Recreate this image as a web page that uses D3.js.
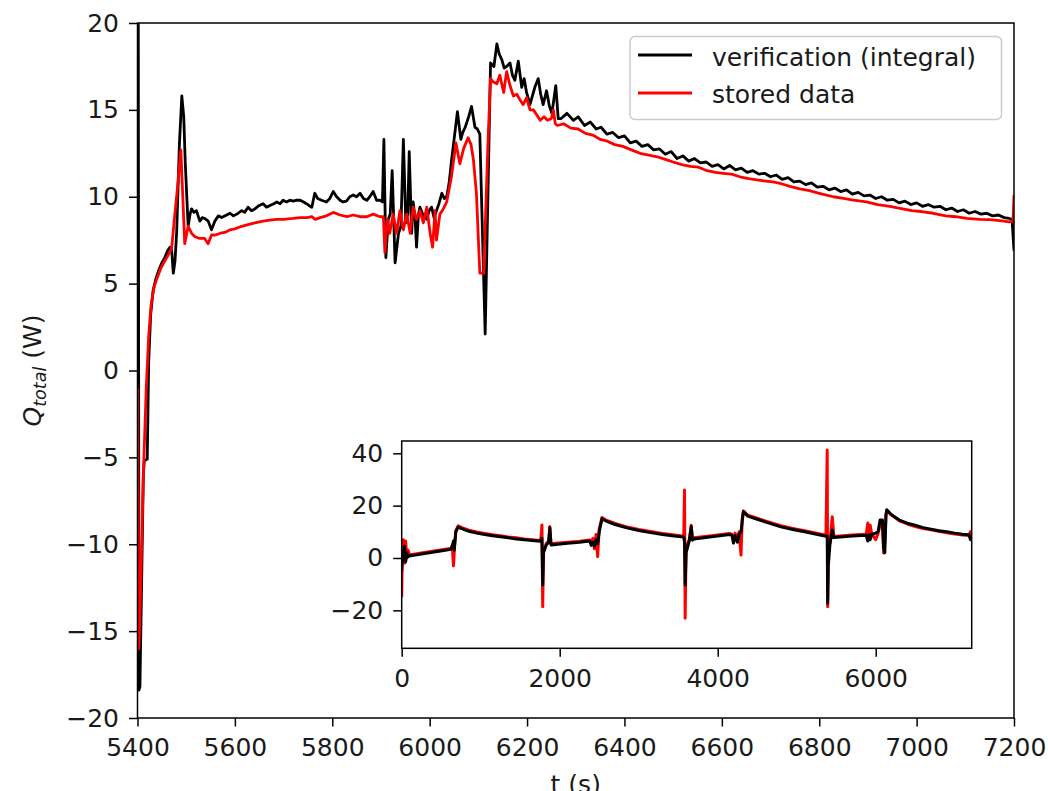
<!DOCTYPE html>
<html lang="en">
<head>
<meta charset="UTF-8">
<title>Q total: verification vs stored data</title>
<script src="https://d3js.org/d3.v7.min.js"></script>
<style>
  body { margin: 0; background: #fff; }
</style>
</head>
<body>
<div id="chart"></div>
<script>
// main panel, [t (s), Q_total (W)]
const verifMain = [
  [5400, 30], [5401.5, 24], [5403, -18.4], [5405, -18.2], [5408, -13], [5412, -6], [5414, -5.2], [5420, -5.1],
  [5423, 0.5], [5427, 3.2], [5432, 4.6], [5438, 5.3], [5444, 5.8], [5450, 6.2], [5456, 6.5],
  [5462, 6.9], [5467, 7.1], [5470, 7.0], [5473.5, 5.6], [5477, 6.3], [5480.5, 8.0], [5486, 13],
  [5491, 15.8], [5495, 14.6], [5498, 12], [5504, 8.3], [5508, 9.0], [5511, 9.3], [5516, 9.1],
  [5521, 9.2], [5528, 8.6], [5533, 8.8], [5538, 8.75], [5545, 8.6], [5552, 8.1], [5559, 8.6],
  [5566, 8.9], [5573, 8.8], [5580, 8.9], [5590, 9.05], [5597, 8.9], [5604, 9.0], [5614, 9.2],
  [5620, 9.1], [5627, 9.4], [5634, 9.2], [5641, 9.3], [5650, 9.5], [5658, 9.6], [5665, 9.4],
  [5672, 9.5], [5680, 9.6], [5686, 9.7], [5693, 9.6], [5699, 9.8], [5706, 9.7], [5713, 9.8],
  [5720, 9.75], [5727, 9.8], [5734, 9.8], [5741, 9.7], [5747, 9.6], [5752, 9.5], [5758, 9.4],
  [5764, 10.2], [5770, 9.9], [5778, 9.8], [5788, 9.7], [5795, 9.9], [5802, 10.3], [5809, 10.0],
  [5816, 9.8], [5822, 9.7], [5829, 9.75], [5836, 10.0], [5843, 10.1], [5850, 10.0], [5857, 10.2],
  [5864, 9.9], [5871, 9.8], [5877, 10.0], [5884, 10.3], [5891, 9.8], [5898, 9.8], [5903, 9.7],
  [5906, 13.3], [5910, 6.5], [5915, 8.7], [5919, 9.0], [5923, 11.5], [5929, 6.2], [5936, 7.9],
  [5941, 8.3], [5946, 13.3], [5951, 8.5], [5955, 9.0], [5958, 12.6], [5963, 7.9], [5966, 9.7],
  [5970, 8.8], [5973, 7.1], [5977, 9.0], [5980, 9.4], [5987, 8.9], [5994, 8.7], [5999, 9.2],
  [6004, 9.4], [6009, 8.8], [6014, 9.2], [6019, 9.6], [6025, 10.2], [6030, 9.9], [6035, 10.0],
  [6040, 10.8], [6045, 12.1], [6051, 13.5], [6057, 14.9], [6064, 13.3], [6068, 13.7], [6073, 14.0],
  [6080, 14.6], [6086, 15.2], [6093, 14.0], [6098, 13.9], [6103, 13.6], [6114, 2.1], [6125, 17.7],
  [6132, 17.5], [6138, 18.8], [6143, 18.2], [6148, 17.9], [6153, 17.4], [6158, 17.5], [6165, 17.7],
  [6170, 17.0], [6175, 16.7], [6182, 17.8], [6189, 16.3], [6194, 16.8], [6199, 16.0], [6206, 15.3],
  [6211, 15.8], [6216, 16.3], [6223, 16.8], [6228, 15.9], [6233, 15.3], [6240, 16.1], [6246, 15.2],
  [6251, 14.8], [6259, 16.4], [6264, 14.5], [6270, 14.5], [6282, 14.8], [6295, 14.4], [6305, 14.6],
  [6318, 14.1], [6330, 14.3], [6342, 13.9], [6352, 14.0], [6364, 13.6], [6376, 13.7], [6388, 13.4],
  [6400, 13.5], [6412, 13.1], [6424, 13.2], [6436, 12.9], [6448, 13.0], [6460, 12.7], [6472, 12.75],
  [6484, 12.45], [6496, 12.6], [6508, 12.2], [6520, 12.35], [6532, 12.05], [6544, 12.2], [6556, 11.95],
  [6568, 12.0], [6580, 11.75], [6592, 11.85], [6604, 11.6], [6616, 11.8], [6628, 11.55], [6640, 11.65],
  [6652, 11.4], [6664, 11.5], [6676, 11.3], [6688, 11.35], [6700, 11.15], [6712, 11.25], [6724, 11.0],
  [6736, 11.1], [6748, 10.85], [6760, 10.9], [6772, 10.7], [6784, 10.8], [6796, 10.55], [6808, 10.6],
  [6820, 10.4], [6832, 10.5], [6844, 10.3], [6856, 10.4], [6868, 10.15], [6880, 10.25], [6892, 10.05],
  [6904, 10.1], [6916, 9.9], [6928, 10.0], [6940, 9.8], [6952, 9.85], [6964, 9.65], [6976, 9.75],
  [6988, 9.55], [7000, 9.65], [7012, 9.45], [7024, 9.55], [7036, 9.4], [7048, 9.45], [7060, 9.25],
  [7072, 9.35], [7084, 9.15], [7096, 9.25], [7108, 9.05], [7120, 9.15], [7132, 9.0], [7144, 9.05],
  [7156, 8.9], [7168, 8.95], [7180, 8.8], [7190, 8.75], [7196, 8.7], [7200, 6.9]
];

const storedMain = [
  [5400, -1], [5403, -16], [5407, -12], [5412, -6], [5418, -1], [5423, 2], [5428, 3.8],
  [5434, 4.8], [5440, 5.3], [5448, 5.9], [5456, 6.3], [5464, 6.7], [5470, 7.0], [5476, 8.8],
  [5482, 10.5], [5489, 12.7], [5497, 7.3], [5504, 8.3], [5511, 7.9], [5518, 7.7], [5528, 7.6],
  [5538, 7.6], [5545, 7.3], [5552, 7.8], [5560, 7.8], [5570, 7.9], [5580, 7.95], [5590, 8.1],
  [5600, 8.15], [5614, 8.3], [5627, 8.4], [5641, 8.5], [5658, 8.6], [5672, 8.65], [5686, 8.7],
  [5700, 8.7], [5720, 8.75], [5734, 8.8], [5748, 8.8], [5758, 8.85], [5765, 8.7], [5775, 8.8],
  [5788, 8.9], [5802, 9.1], [5816, 8.95], [5830, 8.85], [5843, 8.95], [5857, 8.85], [5871, 8.85],
  [5884, 9.0], [5898, 8.85], [5905, 8.85], [5908, 6.8], [5913, 8.7], [5918, 7.9], [5925, 9.0],
  [5932, 7.9], [5939, 9.2], [5946, 8.1], [5953, 9.0], [5960, 7.9], [5966, 9.4], [5973, 8.7],
  [5980, 9.2], [5987, 8.5], [5994, 9.4], [6001, 7.9], [6006, 7.1], [6011, 9.2], [6014, 7.5],
  [6021, 9.0], [6028, 9.3], [6035, 9.7], [6045, 11.2], [6054, 13.1], [6062, 11.9], [6070, 12.8],
  [6079, 13.4], [6085, 13.0], [6090, 12.1], [6096, 10.2], [6103, 5.6], [6111, 5.6], [6120, 13.3],
  [6125, 16.8], [6131, 16.6], [6138, 16.5], [6144, 17.0], [6152, 16.0], [6158, 17.2], [6165, 16.4],
  [6172, 15.8], [6179, 15.9], [6185, 15.6], [6192, 15.3], [6199, 15.7], [6206, 15.0], [6213, 15.0],
  [6220, 14.7], [6227, 14.4], [6235, 14.6], [6242, 14.4], [6250, 14.5], [6254, 15.0], [6258, 14.2],
  [6262, 14.1], [6275, 14.2], [6290, 13.95], [6305, 13.9], [6320, 13.65], [6335, 13.55], [6350, 13.3],
  [6365, 13.2], [6380, 13.0], [6397, 12.9], [6414, 12.7], [6432, 12.5], [6450, 12.4], [6467, 12.3],
  [6484, 12.15], [6500, 12.0], [6518, 11.85], [6535, 11.75], [6552, 11.7], [6570, 11.5], [6587, 11.4],
  [6603, 11.35], [6620, 11.3], [6637, 11.15], [6655, 11.05], [6672, 10.97], [6690, 10.9], [6705, 10.85],
  [6722, 10.75], [6740, 10.6], [6760, 10.45], [6780, 10.35], [6800, 10.2], [6829, 10.0], [6850, 9.9],
  [6870, 9.8], [6897, 9.7], [6920, 9.55], [6945, 9.45], [6966, 9.33], [6990, 9.2], [7010, 9.15],
  [7034, 9.05], [7060, 8.9], [7080, 8.85], [7103, 8.76], [7130, 8.7], [7150, 8.68], [7171, 8.63],
  [7190, 8.56], [7198, 8.6], [7200, 10.1]
];

// inset, whole run
const verifFull = [
  [0, -5], [8, 2], [20, -1], [35, 4.5], [50, -1.5], [65, 2], [80, 0.5], [100, 0.8], [150, 1.0],
  [250, 1.5], [350, 2.0], [450, 2.5], [550, 3.0], [620, 3.3], [640, 4.5], [655, 6.5], [665, 3.0],
  [685, 10], [715, 11.8], [760, 11.2], [850, 10.2], [950, 9.5], [1050, 9.0], [1150, 8.5], [1250, 8.1],
  [1350, 7.7], [1450, 7.3], [1550, 7.0], [1650, 6.7], [1760, 6.4], [1775, 7.5], [1785, -10.3],
  [1795, 2.0], [1830, 5.0], [1860, 6.0], [1875, 11.5], [1890, 5.0], [1950, 5.2], [2100, 5.6],
  [2250, 6.0], [2380, 6.5], [2400, 4.8], [2420, 6.0], [2440, 4.5], [2460, 7.0], [2480, 5.5],
  [2500, 10], [2535, 15.0], [2580, 14.2], [2700, 12.8], [2850, 11.5], [3000, 10.5], [3150, 9.7],
  [3300, 9.0], [3450, 8.4], [3570, 8.0], [3580, 6.0], [3588, -10.3], [3600, 2], [3640, 6.5],
  [3665, 12.0], [3680, 6.8], [3700, 7.3], [3950, 8.2], [4150, 9.0], [4180, 8.6], [4200, 5.7],
  [4220, 8.5], [4250, 6.0], [4270, 9.0], [4295, 10.0], [4310, 14.0], [4325, 17.7], [4380, 16.0],
  [4500, 14.8], [4650, 13.3], [4800, 11.9], [4950, 10.9], [5100, 10.0], [5250, 9.1], [5370, 8.3],
  [5386, 8.3], [5392, -17.3], [5400, -3], [5420, 5], [5450, 10.7], [5470, 7.8], [5550, 8.0],
  [5700, 8.4], [5880, 8.7], [5900, 6.5], [5915, 8.8], [5930, 7.0], [5950, 9.0], [6000, 9.5],
  [6030, 10.0], [6055, 14.5], [6085, 14.5], [6100, 4.0], [6115, 2.0], [6130, 16.5], [6140, 18.4],
  [6200, 16.5], [6300, 14.5], [6400, 13.3], [6500, 12.5], [6600, 11.6], [6700, 11.0], [6800, 10.4],
  [6900, 10.0], [7000, 9.5], [7100, 9.1], [7180, 8.9], [7200, 7.0], [7215, 8.6]
];

const storedFull = [
  [0, -15], [8, 3], [20, 7], [35, -2], [50, 6.5], [65, 0], [80, 3], [100, 1.2], [150, 1.4],
  [250, 1.9], [350, 2.4], [450, 2.9], [550, 3.3], [620, 3.6], [640, 4.8], [655, -3], [670, 5],
  [685, 10.5], [715, 12.3], [760, 11.6], [850, 10.6], [950, 9.9], [1050, 9.4], [1150, 8.9], [1250, 8.5],
  [1350, 8.0], [1450, 7.7], [1550, 7.3], [1650, 7.0], [1760, 6.7], [1775, 12.6], [1785, -18.6],
  [1795, 3.0], [1830, 5.5], [1860, 6.5], [1875, 12.0], [1890, 5.4], [1950, 5.6], [2100, 6.0],
  [2250, 6.4], [2380, 6.9], [2400, 5.5], [2420, 7.5], [2440, 3.5], [2460, 9.0], [2480, 0.5],
  [2500, 11], [2535, 15.5], [2580, 14.6], [2700, 13.2], [2850, 11.9], [3000, 10.9], [3150, 10.1],
  [3300, 9.4], [3450, 8.8], [3570, 8.3], [3580, 26], [3588, -23], [3600, 4], [3640, 7.0],
  [3665, 12.5], [3680, 7.2], [3700, 7.7], [3950, 8.6], [4150, 9.4], [4180, 9.0], [4200, 7.0],
  [4220, 9.5], [4250, 7.5], [4270, 10.0], [4295, 1.1], [4310, 15.0], [4325, 18.0], [4380, 16.4],
  [4500, 15.2], [4650, 13.7], [4800, 12.3], [4950, 11.3], [5100, 10.4], [5250, 9.5], [5370, 8.7],
  [5386, 41.3], [5392, -18.6], [5400, 2], [5420, 6], [5450, 15.8], [5470, 8.2], [5550, 8.4],
  [5700, 8.8], [5880, 9.1], [5900, 13.4], [5915, 8.5], [5930, 12.5], [5950, 9.2], [6000, 7.0],
  [6030, 9.5], [6055, 12.5], [6085, 13.0], [6100, 1.9], [6115, 6.0], [6130, 16.5], [6140, 18.0],
  [6200, 16.4], [6300, 14.2], [6400, 13.0], [6500, 12.0], [6600, 11.3], [6700, 10.8], [6800, 10.2],
  [6900, 9.6], [7000, 9.2], [7100, 8.8], [7180, 8.6], [7200, 10.1], [7215, 6.9]
];

const mainXTicks = [5400, 5600, 5800, 6000, 6200, 6400, 6600, 6800, 7000, 7200];
const mainYTicks = [-20, -15, -10, -5, 0, 5, 10, 15, 20];
const insetXTicks = [0, 2000, 4000, 6000];
const insetYTicks = [-20, 0, 20, 40];
const legendLabels = ["verification (integral)", "stored data"];

const width = 1048, height = 791;
const font = "DejaVu Sans";
const fs = 25;
const textColor = "#1a1a1a";

const mainBox = {left: 137.5, right: 1014, top: 23, bottom: 718};
const insetBox = {left: 401.7, right: 971.7, top: 441, bottom: 648.3};

const svg = d3.select("#chart").append("svg")
    .attr("width", width)
    .attr("height", height)
    .style("display", "block");

const defs = svg.append("defs");
function addClip(id, b) {
    defs.append("clipPath").attr("id", id)
      .append("rect")
        .attr("x", b.left).attr("y", b.top)
        .attr("width", b.right - b.left).attr("height", b.bottom - b.top);
}
addClip("clip-main", mainBox);
addClip("clip-inset", insetBox);

const minus = d => (d < 0 ? "\u2212" + Math.abs(d) : String(d));

function styleAxis(g) {
    g.select(".domain").remove();
    g.attr("font-family", font).attr("font-size", fs).attr("color", textColor);
    g.selectAll(".tick line").attr("stroke", "#000").attr("stroke-width", 1.5);
}

function drawPanel(box, xDomain, yDomain, xTicks, yTicks, clipId, series) {
    const x = d3.scaleLinear().domain(xDomain).range([box.left, box.right]);
    const y = d3.scaleLinear().domain(yDomain).range([box.bottom, box.top]);

    svg.append("rect")
        .attr("x", box.left).attr("y", box.top)
        .attr("width", box.right - box.left).attr("height", box.bottom - box.top)
        .attr("fill", "#fff");

    const line = d3.line().x(d => x(d[0])).y(d => y(d[1]));
    const lines = svg.append("g").attr("clip-path", `url(#${clipId})`);
    series.forEach(s => {
        lines.append("path")
            .datum(s.data)
            .attr("d", line)
            .attr("fill", "none")
            .attr("stroke", s.color)
            .attr("stroke-width", s.width)
            .attr("stroke-linejoin", "round");
    });

    svg.append("g")
        .attr("transform", `translate(0,${box.bottom})`)
        .call(d3.axisBottom(x).tickValues(xTicks).tickSize(8.5).tickPadding(12).tickFormat(minus))
        .call(styleAxis);

    svg.append("g")
        .attr("transform", `translate(${box.left},0)`)
        .call(d3.axisLeft(y).tickValues(yTicks).tickSize(8.5).tickPadding(10).tickFormat(minus))
        .call(styleAxis);

    svg.append("rect")
        .attr("x", box.left).attr("y", box.top)
        .attr("width", box.right - box.left).attr("height", box.bottom - box.top)
        .attr("fill", "none")
        .attr("stroke", "#000")
        .attr("stroke-width", 1.5);
}

// main axes: stored data is drawn over verification
drawPanel(mainBox, [5400, 7200], [-20, 20], mainXTicks, mainYTicks, "clip-main", [
    {data: verifMain, color: "#000", width: 2.8},
    {data: storedMain, color: "#ff0000", width: 2.8}
]);

// legend
const legend = svg.append("g");
legend.append("rect")
    .attr("x", 630).attr("y", 36.5)
    .attr("width", 371.5).attr("height", 83)
    .attr("rx", 5).attr("ry", 5)
    .attr("fill", "#fff").attr("fill-opacity", 0.8)
    .attr("stroke", "#cccccc").attr("stroke-width", 1.5);
[["#000", 55, 65.5], ["#ff0000", 93, 102.5]].forEach((row, i) => {
    legend.append("line")
        .attr("x1", 638).attr("x2", 692)
        .attr("y1", row[1]).attr("y2", row[1])
        .attr("stroke", row[0]).attr("stroke-width", 2.8);
    legend.append("text")
        .attr("x", 712).attr("y", row[2])
        .attr("font-family", font).attr("font-size", fs)
        .attr("fill", textColor)
        .text(legendLabels[i]);
});

// axis labels
const ylab = svg.append("text")
    .attr("transform", `translate(41,${(mainBox.top + mainBox.bottom) / 2}) rotate(-90)`)
    .attr("text-anchor", "middle")
    .attr("font-family", font).attr("font-size", fs)
    .attr("fill", textColor);
ylab.append("tspan").attr("font-style", "italic").text("Q");
ylab.append("tspan").attr("font-style", "italic").attr("font-size", 17.5).attr("dy", 5).text("total");
ylab.append("tspan").attr("dy", -5).text(" (W)");

// the x label sits partly below the figure's bottom edge, as in the original
svg.append("text")
    .attr("x", (mainBox.left + mainBox.right) / 2)
    .attr("y", 793)
    .attr("text-anchor", "middle")
    .attr("font-family", font).attr("font-size", fs)
    .attr("fill", textColor)
    .text("t (s)");

// inset: verification drawn over stored data
drawPanel(insetBox, [0, 7215], [-34.5, 44.7], insetXTicks, insetYTicks, "clip-inset", [
    {data: storedFull, color: "#ff0000", width: 3},
    {data: verifFull, color: "#000", width: 3}
]);
</script>
</body>
</html>
